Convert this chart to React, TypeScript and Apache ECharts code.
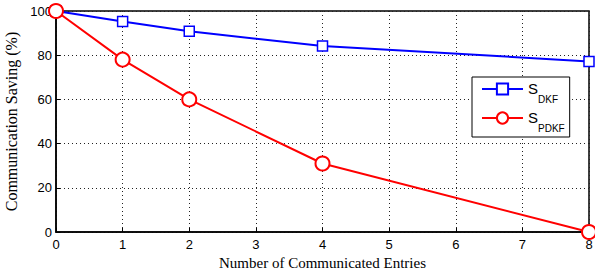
import React, { useEffect, useRef } from "react";
import * as echarts from "echarts";

const xValues = [0, 1, 2, 4, 8];
const dkfValues = [100, 95.3, 90.8, 84.2, 77.2];
const pdkfValues = [100, 78, 60, 31, 0];
const seriesNames = ["S_DKF", "S_PDKF"];
const xTicks = [0, 1, 2, 3, 4, 5, 6, 7, 8];
const yTicks = [0, 20, 40, 60, 80, 100];

export default function App() {
  const ref = useRef<HTMLDivElement>(null);
  useEffect(() => {
    if (!ref.current) return;
    const chart = echarts.init(ref.current, null, { renderer: "svg" });
    const split = { show: true, lineStyle: { color: "#222", type: [1, 3] as any, width: 1 } };
    chart.setOption({
      animation: false,
      backgroundColor: "#fff",
      grid: {
        left: 56, right: 6, top: 11, bottom: 39,
        outerBoundsMode: "none",
        containLabel: false,
        show: true, borderColor: "#000", borderWidth: 1.5, backgroundColor: "transparent",
      },
      xAxis: {
        type: "value",
        min: xTicks[0],
        max: xTicks[xTicks.length - 1],
        interval: 1,
        name: "Number of Communicated Entries",
        nameLocation: "middle",
        nameGap: 21,
        nameTextStyle: { fontFamily: "Liberation Serif", fontSize: 15, color: "#000" },
        axisLine: { lineStyle: { color: "#000", width: 1.5 } },
        axisTick: { inside: true, length: 4, lineStyle: { color: "#000" } },
        axisLabel: { fontFamily: "Liberation Sans", fontSize: 13, color: "#000", margin: 6 },
        splitLine: split,
      },
      yAxis: {
        type: "value",
        min: yTicks[0],
        max: yTicks[yTicks.length - 1],
        interval: 20,
        name: "Communication Saving (%)",
        nameLocation: "middle",
        nameGap: 33,
        nameTextStyle: { fontFamily: "Liberation Serif", fontSize: 16, color: "#000" },
        axisLine: { lineStyle: { color: "#000", width: 1.5 } },
        axisTick: { inside: true, length: 4, lineStyle: { color: "#000" } },
        axisLabel: { fontFamily: "Liberation Sans", fontSize: 13, color: "#000", margin: 4 },
        splitLine: split,
      },
      legend: {
        orient: "vertical",
        left: 472,
        top: 77,
        padding: [4, 5, 4, 9],
        itemGap: 6,
        itemWidth: 41,
        itemHeight: 14,
        borderColor: "#000",
        borderWidth: 1,
        backgroundColor: "#fff",
        data: seriesNames,
        formatter: (n: string) => {
          const [a, b] = n.split("_");
          return `{a|${a}}{b|${b}}`;
        },
        textStyle: {
          rich: {
            a: { fontFamily: "Liberation Sans", fontSize: 15, color: "#000", lineHeight: 16, verticalAlign: "top" },
            b: { fontFamily: "Liberation Sans", fontSize: 10, color: "#000", lineHeight: 10, padding: [13, 0, 0, 0], verticalAlign: "top" },
          },
        },
      },
      series: [
        {
          name: seriesNames[0],
          type: "line",
          data: xValues.map((x, i) => [x, dkfValues[i]]),
          symbol: "rect",
          symbolSize: 10,
          itemStyle: { color: "#fff", borderColor: "#0000ff", borderWidth: 1.5 },
          lineStyle: { color: "#0000ff", width: 2 },
          z: 3,
        },
        {
          name: seriesNames[1],
          type: "line",
          data: xValues.map((x, i) => [x, pdkfValues[i]]),
          symbol: "circle",
          symbolSize: 14,
          itemStyle: { color: "#fff", borderColor: "#ff0000", borderWidth: 2 },
          lineStyle: { color: "#ff0000", width: 2 },
          z: 4,
        },
      ],
    });
    return () => chart.dispose();
  }, []);
  return <div ref={ref} style={{ width: 595, height: 271, position: "absolute", left: 0, top: 0 }} />;
}
